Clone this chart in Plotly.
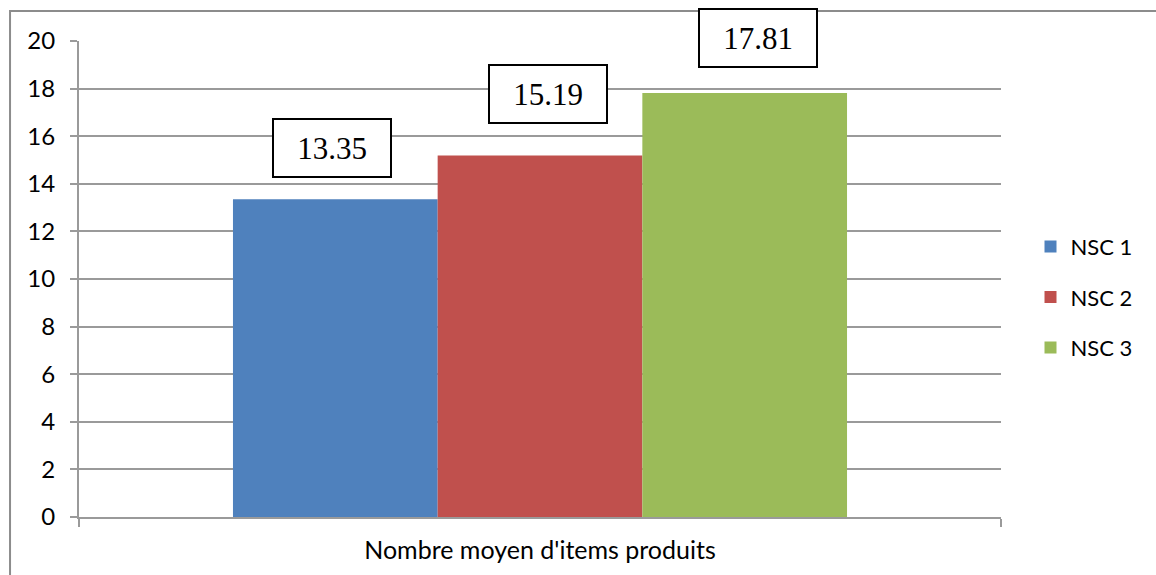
import plotly.graph_objects as go

# Mean number of items produced per NSC group
category = ["Nombre moyen d'items produits"]
series_names = ["NSC 1", "NSC 2", "NSC 3"]
series_values = [13.35, 15.19, 17.81]
series_colors = ["#4F81BD", "#C0504D", "#9BBB59"]
y_ticks = [0, 2, 4, 6, 8, 10, 12, 14, 16, 18, 20]

# label box offsets (px) relative to the category centre / bar top
label_xshift = [-208, 8, 218]
label_yshift = [21, 31, 25]

fig = go.Figure()
for i, (name, val, col) in enumerate(zip(series_names, series_values, series_colors)):
    fig.add_trace(go.Bar(
        x=category, y=[val], name=name, marker=dict(color=col, line=dict(width=0)),
        legendgroup=name,
    ))
    fig.add_annotation(
        x=category[0], y=val, text=f"{val:.2f}", showarrow=False,
        xanchor="center", yanchor="bottom", xshift=label_xshift[i], yshift=label_yshift[i],
        font=dict(family="Liberation Serif", size=31, color="black"),
        bgcolor="white", bordercolor="black", borderwidth=2, borderpad=1,
        width=114, height=54,
    )

grid_col = "#9a9a9a"
fig.update_layout(
    width=1156, height=575,
    margin=dict(l=79, r=155, t=41, b=58),
    paper_bgcolor="white", plot_bgcolor="white",
    barmode="group", bargap=0.334, bargroupgap=0,
    font=dict(family="Lato", size=24, color="black"),
    showlegend=True,
    legend=dict(
        x=1.032, xanchor="left", y=0.462, yanchor="middle",
        traceorder="grouped", tracegroupgap=19,
        font=dict(family="Lato", size=22, color="black"),
        itemwidth=30,
    ),
    xaxis=dict(
        showgrid=False, showline=True, linecolor=grid_col, linewidth=2,
        ticks="outside", ticklen=8, tickcolor=grid_col, tickwidth=2,
        tickson="boundaries", tickfont=dict(size=25),
        ticklabelstandoff=10,
    ),
    yaxis=dict(
        range=[0, 20], tickvals=y_ticks, showgrid=True, gridcolor=grid_col, gridwidth=2,
        showline=True, linecolor=grid_col, linewidth=2, zeroline=False,
        ticks="outside", ticklen=7, tickcolor=grid_col, tickwidth=2,
        tickfont=dict(size=24), ticklabelstandoff=10,
    ),
)

# outer chart frame
fig.add_shape(type="rect", xref="paper", yref="paper",
              x0=-0.0748, y0=-0.3, x1=1.3, y1=1.063,
              line=dict(color="#8c8c8c", width=2), layer="below")

fig.write_html("out.html")
